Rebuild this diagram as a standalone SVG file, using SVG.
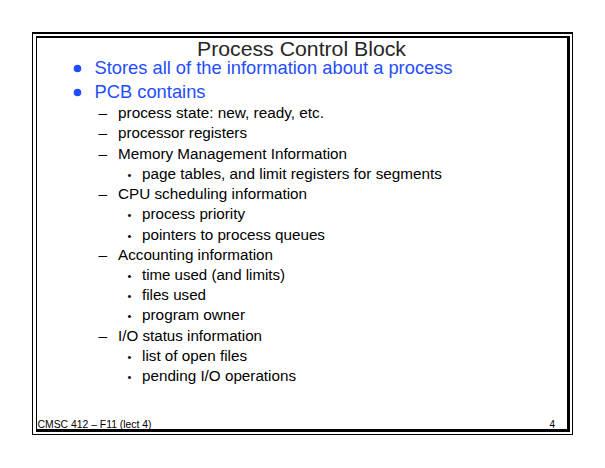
<svg xmlns="http://www.w3.org/2000/svg" width="605" height="468" viewBox="0 0 605 468">
<style>
.frame{stroke:#000;fill:none}
.title{font-family:"Liberation Sans",Arial,sans-serif;font-size:21px;fill:#262626}
.l1{font-family:"Liberation Sans",Arial,sans-serif;font-size:19px;fill:#1f4dff}
.l2{font-family:"Liberation Sans",Arial,sans-serif;font-size:15.5px;fill:#000}
.foot{font-family:"Liberation Sans",Arial,sans-serif;font-size:10px;fill:#000}
.dot{fill:#1f4dff}
</style>
<rect width="605" height="468" fill="#fff"/>
<g id="frame">
<line class="frame" x1="32" y1="33" x2="573" y2="33" stroke-width="2"/>
<line class="frame" x1="32.5" y1="32" x2="32.5" y2="435" stroke-width="1"/>
<line class="frame" x1="572.5" y1="32" x2="572.5" y2="435" stroke-width="1"/>
<line class="frame" x1="32" y1="434.5" x2="573" y2="434.5" stroke-width="1"/>
<line class="frame" x1="36" y1="37" x2="570" y2="37" stroke-width="2"/>
<line class="frame" x1="36.5" y1="36" x2="36.5" y2="432" stroke-width="1"/>
<line class="frame" x1="568.5" y1="36" x2="568.5" y2="432" stroke-width="3"/>
<line class="frame" x1="36" y1="430.5" x2="570" y2="430.5" stroke-width="3"/>
</g>
<g id="title">
<text class="title" x="197" y="55.5" textLength="209" lengthAdjust="spacingAndGlyphs">Process Control Block</text>
</g>
<g id="bullets">
<circle class="dot" cx="77.5" cy="68.5" r="3.8"/>
<text class="l1" x="94.5" y="74" textLength="358" lengthAdjust="spacingAndGlyphs">Stores all of the information about a process</text>
<circle class="dot" cx="77.5" cy="92.5" r="3.8"/>
<text class="l1" x="94.5" y="98" textLength="111" lengthAdjust="spacingAndGlyphs">PCB contains</text>
</g>
<g id="items" class="l2">
<text x="98.5" y="118">–</text>
<text x="118" y="118" textLength="206" lengthAdjust="spacingAndGlyphs">process state: new, ready, etc.</text>
<text x="98.5" y="138">–</text>
<text x="118" y="138" textLength="129" lengthAdjust="spacingAndGlyphs">processor registers</text>
<text x="98.5" y="158.5">–</text>
<text x="118" y="158.5" textLength="229" lengthAdjust="spacingAndGlyphs">Memory Management Information</text>
<text x="127.5" y="178.5" font-size="11">•</text>
<text x="142" y="178.5" textLength="300" lengthAdjust="spacingAndGlyphs">page tables, and limit registers for segments</text>
<text x="98.5" y="199">–</text>
<text x="118" y="199" textLength="189" lengthAdjust="spacingAndGlyphs">CPU scheduling information</text>
<text x="127.5" y="219" font-size="11">•</text>
<text x="142" y="219" textLength="103" lengthAdjust="spacingAndGlyphs">process priority</text>
<text x="127.5" y="239.5" font-size="11">•</text>
<text x="142" y="239.5" textLength="183" lengthAdjust="spacingAndGlyphs">pointers to process queues</text>
<text x="98.5" y="259.5">–</text>
<text x="118" y="259.5" textLength="155" lengthAdjust="spacingAndGlyphs">Accounting information</text>
<text x="127.5" y="279.5" font-size="11">•</text>
<text x="142" y="279.5" textLength="143" lengthAdjust="spacingAndGlyphs">time used (and limits)</text>
<text x="127.5" y="300" font-size="11">•</text>
<text x="142" y="300" textLength="64" lengthAdjust="spacingAndGlyphs">files used</text>
<text x="127.5" y="320" font-size="11">•</text>
<text x="142" y="320" textLength="103" lengthAdjust="spacingAndGlyphs">program owner</text>
<text x="98.5" y="340.5">–</text>
<text x="118" y="340.5" textLength="144" lengthAdjust="spacingAndGlyphs">I/O status information</text>
<text x="127.5" y="360.5" font-size="11">•</text>
<text x="142" y="360.5" textLength="105" lengthAdjust="spacingAndGlyphs">list of open files</text>
<text x="127.5" y="380.5" font-size="11">•</text>
<text x="142" y="380.5" textLength="154" lengthAdjust="spacingAndGlyphs">pending I/O operations</text>
</g>
<g id="footer">
<text class="foot" x="37.5" y="428" textLength="114" lengthAdjust="spacingAndGlyphs">CMSC 412 – F11  (lect 4)</text>
<text class="foot" x="549.5" y="428">4</text>
</g>
</svg>
